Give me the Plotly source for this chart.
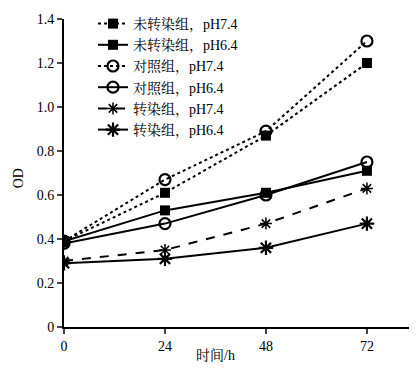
import plotly.graph_objects as go

hours = [0, 24, 48, 72]
names = ["未转染组，pH7.4", "未转染组，pH6.4", "对照组，pH7.4", "对照组，pH6.4", "转染组，pH7.4", "转染组，pH6.4"]
untrans_74 = [0.39, 0.61, 0.87, 1.20]
untrans_64 = [0.39, 0.53, 0.61, 0.71]
ctrl_74 = [0.39, 0.67, 0.89, 1.30]
ctrl_64 = [0.38, 0.47, 0.60, 0.75]
trans_74 = [0.30, 0.35, 0.47, 0.63]
trans_64 = [0.29, 0.31, 0.36, 0.47]
y_ticks = [0, 0.2, 0.4, 0.6, 0.8, 1.0, 1.2, 1.4]
y_ticktext = ["0", "0.2", "0.4", "0.6", "0.8", "1.0", "1.2", "1.4"]
x_ticks = [0, 24, 48, 72]

FONT = "Liberation Serif, Noto Serif CJK SC, Noto Sans CJK SC, serif"

series = [
    (untrans_74, "dot", dict(symbol="square", size=10, color="black")),
    (untrans_64, "solid", dict(symbol="square", size=10, color="black")),
    (ctrl_74, "dot", dict(symbol="circle-open", size=11, color="black", line=dict(width=2.2, color="black"))),
    (ctrl_64, "solid", dict(symbol="circle-open", size=11, color="black", line=dict(width=2.2, color="black"))),
    (trans_74, "dash", dict(symbol="asterisk-open", size=10, color="black", line=dict(width=1.5, color="black"))),
    (trans_64, "solid", dict(symbol="asterisk-open", size=12, color="black", line=dict(width=2.2, color="black"))),
]

fig = go.Figure()
for (vals, dash, marker), name in zip(series, names):
    fig.add_trace(go.Scatter(
        x=hours, y=vals, name=name, mode="lines+markers",
        line=dict(color="black", width=2, dash=dash),
        marker=marker,
    ))

W, H = 401, 355
L, T, B = 56, 11, 36
PW, PH = W - L, H - T - B

fig.update_layout(
    width=W, height=H,
    margin=dict(l=L, r=0, t=T, b=B, pad=0, autoexpand=False),
    paper_bgcolor="white", plot_bgcolor="white",
    font=dict(family=FONT, size=14, color="black"),
    showlegend=True,
    legend=dict(x=29 / PW, y=1 + T / PH, xanchor="left", yanchor="top",
                bgcolor="rgba(0,0,0,0)", font=dict(size=14, family=FONT),
                tracegroupgap=0, itemwidth=30),
    xaxis=dict(range=[0, 82], tickvals=x_ticks, ticks="outside", ticklen=5,
               tickwidth=2, showline=True, linewidth=2, linecolor="black",
               showgrid=False, zeroline=False, automargin=False),
    yaxis=dict(range=[0, 1.4], tickvals=y_ticks, ticktext=y_ticktext, ticks="outside",
               ticklen=5, tickwidth=2, showline=True, linewidth=2, linecolor="black",
               showgrid=False, zeroline=False, automargin=False),
    annotations=[
        dict(text="时间/h", xref="paper", yref="paper", x=(207 - L) / PW, y=-28 / PH,
             xanchor="center", yanchor="middle", showarrow=False, font=dict(size=14)),
        dict(text="OD", xref="paper", yref="paper", x=(10 - L) / PW, y=0.483,
             xanchor="center", yanchor="middle", showarrow=False, textangle=-90,
             font=dict(size=14)),
    ],
)

fig.write_html("out.html")
